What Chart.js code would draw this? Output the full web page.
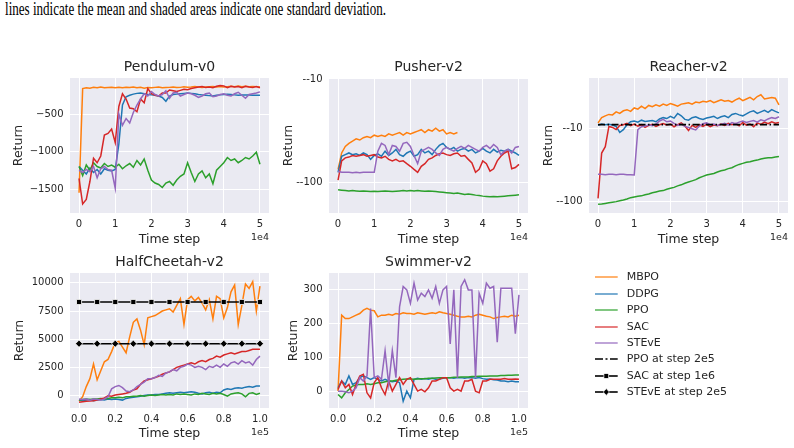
<!DOCTYPE html>
<html><head><meta charset="utf-8">
<script src="https://cdn.jsdelivr.net/npm/chart.js@4.4.0/dist/chart.umd.min.js"></script>
<style>
html,body{margin:0;padding:0;background:#fff;width:794px;height:448px;overflow:hidden;}
body{position:relative;font-family:'DejaVu Sans',sans-serif;color:#262626;}
canvas.p{position:absolute;}
#caption{position:absolute;left:5px;top:0px;font-family:'Liberation Serif','Times New Roman',serif;font-size:18px;line-height:18px;color:#000;white-space:nowrap;transform-origin:0 0;}
.off{position:absolute;font-size:9.5px;line-height:10px;color:#262626;white-space:nowrap;}
.legrow{position:absolute;left:593px;height:12px;}
.legrow svg{position:absolute;left:0;top:0;}
.legrow span{position:absolute;left:33.7px;top:-1px;font-size:11px;line-height:14px;white-space:nowrap;color:#262626;}
</style></head>
<body>
<div id="caption">lines indicate the mean and shaded areas indicate one standard deviation.</div>
<script>
// ---------- x grids ----------
const steps5e4 = [0,1000,2000,3000,4000,5000,6000,7000,8000,9000,10000,11000,12000,13000,14000,15000,16000,17000,18000,19000,20000,21000,22000,23000,24000,25000,26000,27000,28000,29000,30000,31000,32000,33000,34000,35000,36000,37000,38000,39000,40000,41000,42000,43000,44000,45000,46000,47000,48000,49000,50000];
const steps1e5 = [0,2000,4000,6000,8000,10000,12000,14000,16000,18000,20000,22000,24000,26000,28000,30000,32000,34000,36000,38000,40000,42000,44000,46000,48000,50000,52000,54000,56000,58000,60000,62000,64000,66000,68000,70000,72000,74000,76000,78000,80000,82000,84000,86000,88000,90000,92000,94000,96000,98000,100000];
const ticks5e4 = [0,10000,20000,30000,40000,50000];
const ticks1e5 = [0,20000,40000,60000,80000,100000];
const refSteps5e4 = [0,50000];
const refSteps1e5 = [0,10000,20000,30000,40000,50000,60000,70000,80000,90000,100000];

// ---------- Pendulum-v0 ----------
const pendulumYTicks = [-1500,-1000,-500];
const pendulumMBPO = [-1550,-160,-150,-155,-145,-150,-140,-150,-148,-145,-150,-142,-150,-145,-148,-140,-150,-145,-155,-148,-150,-145,-140,-150,-148,-145,-140,-148,-145,-138,-142,-140,-135,-140,-145,-140,-138,-135,-140,-132,-140,-135,-130,-138,-128,-135,-130,-138,-132,-135,-140];
const pendulumDDPG = [-1200,-1250,-1300,-1220,-1280,-1240,-1300,-1230,-1250,-1260,-1240,-900,-380,-270,-250,-235,-225,-220,-230,-240,-245,-250,-260,-280,-330,-260,-240,-235,-230,-225,-220,-225,-230,-240,-245,-250,-255,-260,-250,-245,-240,-238,-240,-245,-250,-248,-246,-248,-250,-250,-250];
const pendulumPPO = [-1200,-1320,-1180,-1250,-1150,-1200,-1220,-1160,-1200,-1180,-1210,-1170,-1230,-1190,-1160,-1210,-1120,-1180,-1100,-1250,-1380,-1420,-1440,-1480,-1420,-1400,-1450,-1380,-1330,-1300,-1150,-1280,-1400,-1300,-1260,-1350,-1300,-1430,-1250,-1200,-1150,-1080,-1120,-1100,-1150,-1120,-1080,-1100,-1060,-1010,-1170];
const pendulumSAC = [-1360,-1700,-1640,-1400,-1090,-1150,-1060,-780,-760,-700,-880,-400,-230,-300,-420,-430,-470,-300,-350,-160,-230,-250,-260,-220,-220,-180,-190,-200,-185,-170,-175,-160,-150,-140,-135,-145,-140,-150,-130,-120,-125,-150,-130,-140,-135,-150,-130,-140,-145,-135,-150];
const pendulumSTEvE = [-1250,-1280,-1240,-1270,-1200,-1350,-1230,-1200,-1240,-1250,-1490,-500,-650,-560,-620,-480,-380,-300,-230,-260,-200,-240,-260,-240,-190,-290,-220,-210,-260,-240,-220,-230,-250,-280,-260,-230,-220,-270,-260,-240,-230,-250,-260,-230,-210,-250,-290,-240,-230,-220,-205];

// ---------- Pusher-v2 (log scale on negative returns) ----------
const pusherYTicks = [-10,-100];
const pusherMBPO = [-75,-52,-45,-42,-40,-38,-39,-37,-36,-37,-35,-36,-35,-36,-34,-35,-34,-33,-35,-33,-34,-33,-32,-31,-33,-31,-32,-30,-32,-31,-34,-33,-34,-33];
const pusherDDPG = [-80,-56,-54,-52,-54,-53,-55,-52,-54,-60,-55,-53,-56,-50,-55,-52,-48,-54,-56,-52,-50,-56,-54,-48,-52,-50,-54,-48,-44,-42,-46,-48,-46,-50,-48,-47,-50,-48,-52,-50,-47,-50,-52,-48,-51,-49,-50,-48,-50,-52,-55];
const pusherPPO = [-118,-119,-120,-121,-120,-121,-122,-121,-122,-123,-122,-123,-122,-121,-122,-123,-122,-121,-120,-121,-120,-121,-120,-121,-122,-121,-122,-123,-124,-125,-126,-127,-128,-127,-129,-131,-130,-131,-133,-134,-136,-137,-138,-137,-138,-137,-136,-135,-134,-133,-132];
const pusherSAC = [-95,-62,-58,-57,-55,-56,-55,-54,-56,-55,-54,-57,-58,-56,-60,-62,-60,-63,-62,-66,-70,-75,-80,-70,-66,-60,-58,-55,-53,-52,-54,-55,-53,-52,-56,-55,-60,-65,-80,-75,-62,-66,-78,-74,-62,-56,-52,-50,-74,-72,-67];
const pusherSTEvE = [-78,-80,-80,-80,-81,-80,-81,-80,-80,-80,-80,-50,-42,-44,-54,-44,-45,-50,-42,-41,-45,-55,-66,-50,-48,-46,-48,-52,-55,-48,-46,-48,-50,-47,-45,-47,-44,-46,-48,-50,-46,-44,-47,-43,-46,-54,-50,-48,-52,-46,-45];

// ---------- Reacher-v2 (log scale on negative returns) ----------
const reacherYTicks = [-10,-100];
const reacherMBPO = [-8.5,-7.2,-6.8,-6.5,-6.6,-6.0,-6.3,-5.8,-5.6,-5.9,-5.3,-5.5,-5.0,-5.4,-4.9,-5.1,-4.8,-5.0,-4.7,-4.9,-4.6,-4.8,-5.0,-4.7,-4.6,-4.5,-4.7,-4.4,-4.5,-4.3,-4.4,-4.2,-4.5,-4.3,-4.1,-4.3,-4.2,-4.4,-4.1,-3.9,-4.2,-4.0,-3.8,-4.1,-3.7,-3.5,-4.0,-3.9,-3.8,-3.9,-4.8];
const reacherDDPG = [-9.2,-8.8,-9.0,-8.9,-9.1,-9.5,-11.5,-10.5,-9.0,-8.2,-8.0,-8.3,-7.8,-8.1,-8.0,-7.9,-8.2,-7.5,-7.2,-7.4,-6.9,-7.3,-6.3,-6.8,-7.6,-7.8,-7.2,-7.0,-7.4,-7.6,-7.3,-7.1,-6.9,-7.4,-7.0,-6.8,-7.2,-6.5,-6.3,-6.6,-6.8,-6.4,-6.0,-5.8,-6.3,-6.0,-5.7,-6.1,-5.6,-5.9,-6.2];
const reacherPPO = [-111,-110,-108,-106,-104,-102,-99,-97,-94,-90,-88,-86,-85,-82,-80,-77,-75,-73,-72,-69,-67,-65,-62,-60,-57,-55,-53,-51,-48,-46,-44,-43,-42,-40,-38.5,-37.5,-36,-35,-33,-31.5,-30.5,-29.5,-29,-28,-27.5,-26.5,-26,-25.5,-25.5,-25,-24.5];
const reacherSAC = [-92,-22,-18,-9.5,-9.8,-10.5,-9.2,-9.0,-8.6,-9.3,-8.8,-9.4,-9.0,-9.8,-9.2,-8.9,-9.5,-9.0,-8.7,-9.1,-8.8,-9.6,-9.0,-8.5,-9.4,-10.8,-9.2,-9.8,-9.0,-9.5,-8.9,-9.6,-9.1,-9.3,-8.8,-9.2,-8.6,-9.0,-8.7,-9.3,-8.4,-9.1,-8.8,-9.6,-8.5,-8.9,-8.3,-8.7,-8.2,-8.6,-8.4];
const reacherSTEvE = [-43,-43,-43.5,-43,-43,-43.5,-43,-43,-43.5,-43.5,-44,-10.5,-9.6,-9.4,-9.0,-9.3,-8.8,-8.0,-7.6,-8.2,-8.0,-8.6,-9.2,-8.8,-9.5,-9.8,-10.2,-10.6,-9.4,-8.7,-8.5,-9.0,-8.8,-9.2,-8.9,-8.6,-9.1,-8.4,-8.7,-8.3,-8.0,-8.4,-8.1,-7.9,-8.3,-7.7,-8.0,-7.5,-7.2,-7.4,-7.0];
const reacherPPOAtStep2e5 = -9.0;

// ---------- HalfCheetah-v2 ----------
const cheetahYTicks = [0,2500,5000,7500,10000];
const cheetahMBPO = [-500,-100,800,1500,2800,1400,2200,3000,3200,3900,4700,4800,4300,3800,5200,6500,6800,5800,4500,6900,7000,7100,7300,7500,7600,7700,7400,8000,8600,6300,8500,8800,8400,8700,8200,7600,8500,6800,8800,8600,6900,7800,9200,9800,6300,8000,9900,9500,10100,7500,9700];
const cheetahDDPG = [-400,-450,-400,-350,-450,-400,-350,-400,-300,-350,-300,-350,-400,-250,-200,-150,-100,-50,0,50,50,100,100,150,200,250,200,250,300,250,300,350,300,200,150,250,300,200,300,250,500,600,550,650,700,650,750,800,750,850,850];
const cheetahPPO = [-400,-350,-300,-350,-300,-300,-250,-300,-250,-200,-200,-150,-200,-100,-100,-50,-50,0,-50,0,50,0,50,100,50,100,50,150,100,150,100,50,150,100,200,150,100,200,150,200,100,-50,150,200,250,150,-100,200,250,100,200];
const cheetahSAC = [-600,-550,-500,-480,-450,-400,-300,-200,-20,-50,50,100,150,200,300,500,600,1000,1300,1400,1500,1600,1700,1900,2000,2100,2300,2500,2600,2700,2800,2900,2800,3000,3100,3000,3200,3300,3500,3400,3600,3700,3800,3700,3800,3900,3900,4000,4100,4100,4100];
const cheetahSTEvE = [-300,-350,-300,-400,-300,-350,-400,-300,-100,600,800,900,700,400,350,500,800,1000,1200,1500,1500,1600,1800,1700,2000,2100,2300,2200,2500,2600,2800,2700,2500,2600,2500,2300,2600,2500,2700,2500,2800,2600,2900,3000,2800,3100,2900,3000,2700,3200,3500];
const cheetahSACAtStep1e6 = 8300;
const cheetahSTEvEAtStep2e5 = 4600;

// ---------- Swimmer-v2 ----------
const swimmerYTicks = [0,100,200,300];
const swimmerMBPO = [0,225,215,215,220,225,230,240,245,240,238,220,225,225,228,225,230,228,232,230,230,228,232,230,228,230,232,230,235,232,230,228,225,222,220,220,222,220,225,228,225,222,220,215,218,220,222,220,225,222,225];
const swimmerDDPG = [10,30,20,45,20,25,40,45,40,35,40,35,30,35,30,28,30,25,-30,0,-20,35,38,35,37,35,38,35,36,38,40,40,38,40,40,38,40,40,38,40,37,35,36,34,33,30,30,28,30,28,28];
const swimmerPPO = [-10,-20,-5,5,15,18,20,20,22,20,22,25,25,28,30,30,32,34,35,36,36,35,36,37,37,38,38,39,40,40,40,40,41,41,42,42,42,43,43,44,44,44,45,45,45,46,46,47,47,48,48];
const swimmerSAC = [5,30,10,20,-10,20,45,50,-5,-20,25,40,10,-10,30,0,20,40,20,35,40,20,0,5,-2,10,30,30,35,40,40,10,0,5,0,30,30,35,0,-5,30,30,35,35,35,35,37,35,35,36,35];
const swimmerSTEvE = [0,0,-2,-5,0,10,40,30,45,245,40,45,35,120,20,120,40,250,310,300,260,320,270,290,280,300,275,310,260,300,310,140,300,40,310,330,300,300,40,290,260,320,305,310,145,305,305,305,305,170,285];

// ---------- legend ----------
const legendLabels = ['MBPO','DDPG','PPO','SAC','STEvE','PPO at step 2e5','SAC at step 1e6','STEvE at step 2e5'];
const methodColors = {MBPO:'#ff7f0e', DDPG:'#1f77b4', PPO:'#2ca02c', SAC:'#d62728', STEvE:'#9467bd'};
const legendColors = {MBPO:'rgba(255,127,14,0.75)', DDPG:'rgba(31,119,180,0.75)', PPO:'rgba(44,160,44,0.75)', SAC:'rgba(214,39,40,0.75)', STEvE:'rgba(148,103,189,0.75)'};

Chart.defaults.font.family = "'DejaVu Sans', sans-serif";
Chart.defaults.color = '#262626';

const bgPlugin = {id:'bg', beforeDraw(chart){const {ctx, chartArea:a} = chart; ctx.save(); ctx.fillStyle = '#EAEAF2'; ctx.fillRect(a.left, a.top, a.right - a.left, a.bottom - a.top); ctx.restore();}};

const neg = v => -v;
const ident = v => v;
const minusLabel = v => v < 0 ? '\u2212' + Math.abs(v) : String(v);

function lineDS(steps, vals, color, tf){
  return {data: vals.map((v,i)=>({x: steps[i], y: tf(v)})), borderColor: color, backgroundColor: color, borderWidth: 1.5, pointRadius: 0, fill: false, tension: 0};
}

const panels = [
  {title:'Pendulum-v0', boxL:0, plotL:70, plotR:269, plotT:78, plotB:213, titleY:67.5, xTitleY:239.4, yTitleX:18.3,
   log:false, yMin:-1820, yMax:-20, yTicks:pendulumYTicks, yLabel:minusLabel, tf:ident,
   xMin:-2500, xMax:52500, xTicks:ticks5e4, xLabel:v=>String(v/1e4), offset:'1e4', steps:steps5e4,
   series:{MBPO:pendulumMBPO, DDPG:pendulumDDPG, PPO:pendulumPPO, SAC:pendulumSAC, STEvE:pendulumSTEvE}, refs:[]},
  {title:'Pusher-v2', boxL:272, plotL:329, plotR:528, plotT:78, plotB:213, titleY:67.5, xTitleY:239.6, yTitleX:289,
   log:true, yMin:9.8, yMax:198, yTicks:pusherYTicks, yLabel:v=>'-'+v, tf:neg,
   xMin:-2500, xMax:52500, xTicks:ticks5e4, xLabel:v=>String(v/1e4), offset:'1e4', steps:steps5e4,
   series:{MBPO:pusherMBPO, DDPG:pusherDDPG, PPO:pusherPPO, SAC:pusherSAC, STEvE:pusherSTEvE}, refs:[]},
  {title:'Reacher-v2', boxL:532, plotL:589, plotR:788, plotT:78, plotB:213, titleY:67.5, xTitleY:239.6, yTitleX:548.5,
   log:true, yMin:2.06, yMax:146, yTicks:reacherYTicks, yLabel:v=>'-'+v, tf:neg,
   xMin:-2500, xMax:52500, xTicks:ticks5e4, xLabel:v=>String(v/1e4), offset:'1e4', steps:steps5e4,
   series:{MBPO:reacherMBPO, DDPG:reacherDDPG, PPO:reacherPPO, SAC:reacherSAC, STEvE:reacherSTEvE},
   refs:[{steps:refSteps5e4, value:reacherPPOAtStep2e5, style:'dashdot'}]},
  {title:'HalfCheetah-v2', boxL:0, plotL:70, plotR:269, plotT:273, plotB:408, titleY:262.5, xTitleY:434, yTitleX:19.3,
   log:false, yMin:-1100, yMax:10870, yTicks:cheetahYTicks, yLabel:minusLabel, tf:ident,
   xMin:-5000, xMax:105000, xTicks:ticks1e5, xLabel:v=>(v/1e5).toFixed(1), offset:'1e5', steps:steps1e5,
   series:{MBPO:cheetahMBPO, DDPG:cheetahDDPG, PPO:cheetahPPO, SAC:cheetahSAC, STEvE:cheetahSTEvE},
   refs:[{steps:refSteps1e5, value:cheetahSACAtStep1e6, style:'square'},{steps:refSteps1e5, value:cheetahSTEvEAtStep2e5, style:'diamond'}]},
  {title:'Swimmer-v2', boxL:272, plotL:329, plotR:528, plotT:273, plotB:408, titleY:262.5, xTitleY:434, yTitleX:293.3,
   log:false, yMin:-50, yMax:350, yTicks:swimmerYTicks, yLabel:minusLabel, tf:ident,
   xMin:-5000, xMax:105000, xTicks:ticks1e5, xLabel:v=>(v/1e5).toFixed(1), offset:'1e5', steps:steps1e5,
   series:{MBPO:swimmerMBPO, DDPG:swimmerDDPG, PPO:swimmerPPO, SAC:swimmerSAC, STEvE:swimmerSTEvE}, refs:[]}
];

const drawOrder = ['STEvE','SAC','PPO','DDPG','MBPO']; // first = on top

panels.forEach(p => {
  const TITLE_H = 23, RIGHT_PAD = 12;
  const top = p.plotT - TITLE_H;
  const W = p.plotR + RIGHT_PAD - p.boxL;
  const H = p.plotB + 36 - top;
  const cv = document.createElement('canvas');
  cv.className = 'p'; cv.width = W; cv.height = H;
  cv.style.left = p.boxL + 'px'; cv.style.top = top + 'px';
  cv.style.width = W + 'px'; cv.style.height = H + 'px';
  document.body.appendChild(cv);

  const datasets = [];
  p.refs.forEach(r => {
    const base = {data: r.steps.map(x=>({x, y: p.tf(r.value)})), borderColor:'#000', backgroundColor:'#000', borderWidth:1.5, fill:false, tension:0, pointRadius:0};
    if (r.style === 'dashdot') { base.borderDash = [7,2.5,1.5,2.5]; base.borderWidth = 1.7; }
    if (r.style === 'square') { base.pointStyle = 'rect'; base.pointRadius = 3.6; base.pointBorderColor = '#fff'; base.pointBorderWidth = 0.8; base.pointBackgroundColor = '#000'; }
    if (r.style === 'diamond') { base.pointStyle = 'rectRot'; base.pointRadius = 3.6; base.pointBorderColor = '#fff'; base.pointBorderWidth = 0.8; base.pointBackgroundColor = '#000'; }
    datasets.push(base);
  });
  drawOrder.forEach(k => datasets.push(lineDS(p.steps, p.series[k], methodColors[k], p.tf)));

  const titlePadTop = p.titleY - top - 8.4;
  new Chart(cv, {
    type:'line',
    data:{datasets},
    plugins:[bgPlugin],
    options:{
      responsive:false, animation:false, devicePixelRatio:1,
      layout:{padding:{left:0, top:0, right:RIGHT_PAD, bottom:0}},
      plugins:{
        legend:{display:false}, tooltip:{enabled:false},
        title:{display:true, text:p.title, fullSize:false, color:'#262626', font:{size:14, weight:'normal'}, padding:{top:titlePadTop, bottom:TITLE_H - 16.8 - titlePadTop}}
      },
      scales:{
        x:{type:'linear', min:p.xMin, max:p.xMax,
           afterBuildTicks:s=>{s.ticks = p.xTicks.map(v=>({value:v}));},
           afterFit:s=>{s.height = H - (p.plotB - top);},
           grid:{color:'#ffffff', lineWidth:1, drawTicks:false}, border:{display:false},
           ticks:{callback:v=>p.xLabel(v), font:{size:10}, color:'#262626', padding:5.5, maxRotation:0, autoSkip:false},
           title:{display:true, text:'Time step', color:'#262626', font:{size:12.5}, padding:{top:0, bottom:H - (p.xTitleY - top) - 7.5}}},
        y:{type:p.log ? 'logarithmic' : 'linear', reverse:p.log,
           min:p.yMin, max:p.yMax,
           afterBuildTicks:s=>{s.ticks = p.yTicks.map(v=>({value:p.tf(v)}));},
           afterFit:s=>{s.width = p.plotL - p.boxL;},
           grid:{color:'#ffffff', lineWidth:1, drawTicks:false}, border:{display:false},
           ticks:{callback:v=>p.yLabel(p.tf(v)), font:{size:10}, color:'#262626', padding:6.5, autoSkip:false},
           title:{display:true, text:'Return', color:'#262626', font:{size:12.5}, padding:{top:(p.yTitleX - p.boxL) - 7.5, bottom:0}}}
      }
    }
  });

  const off = document.createElement('div');
  off.className = 'off'; off.textContent = p.offset;
  off.style.right = (794 - p.plotR) + 'px';
  off.style.top = (p.plotB + 24.3 - 5) + 'px';
  document.body.appendChild(off);
});

// legend
legendLabels.forEach((lab, i) => {
  const row = document.createElement('div');
  row.className = 'legrow';
  const cy = 277.3 + i * 16.4;
  row.style.top = (cy - 6) + 'px';
  let svg = '';
  if (i < 5) {
    svg = `<line x1="2" y1="6" x2="24.7" y2="6" stroke="${legendColors[lab]}" stroke-width="1.6"/>`;
  } else if (lab.startsWith('PPO')) {
    svg = `<line x1="2" y1="6" x2="24.7" y2="6" stroke="#000" stroke-width="1.6" stroke-dasharray="8,2.5,2,2.5,8"/>`;
  } else if (lab.startsWith('SAC')) {
    svg = `<line x1="2" y1="6" x2="24.7" y2="6" stroke="#000" stroke-width="1.6"/><rect x="10.9" y="3.6" width="4.8" height="4.8" fill="#000" stroke="#fff" stroke-width="0.7"/>`;
  } else {
    svg = `<line x1="2" y1="6" x2="24.7" y2="6" stroke="#000" stroke-width="1.6"/><polygon points="13.3,2.6 16.3,6 13.3,9.4 10.3,6" fill="#000" stroke="#fff" stroke-width="0.7"/>`;
  }
  row.innerHTML = `<svg width="27" height="12" viewBox="0 0 27 12">${svg}</svg><span>${lab}</span>`;
  document.body.appendChild(row);
});

// caption width fit
const cap = document.getElementById('caption');
const cw = cap.getBoundingClientRect().width;
cap.style.transform = `scaleX(${381 / cw})`;
</script>
</body></html>
